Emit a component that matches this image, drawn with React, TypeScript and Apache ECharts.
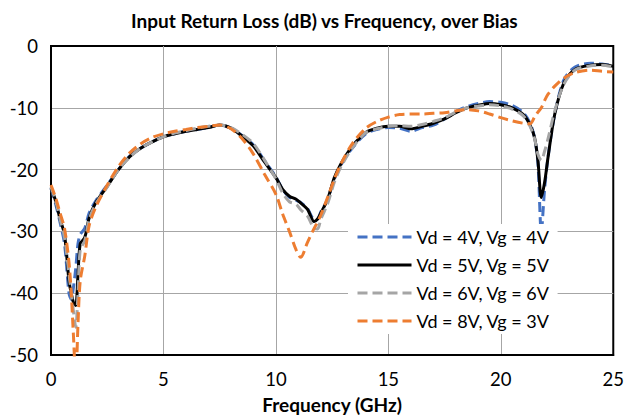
import React, { useEffect, useRef } from "react";
import * as echarts from "echarts";

const freq = [0, 0.2, 0.4, 0.6, 0.8, 0.9, 1.0, 1.1, 1.2, 1.3, 1.5, 1.7, 2.0, 2.5, 3, 3.5, 4, 4.5, 5, 5.5, 6, 6.5, 7, 7.5, 8, 8.5, 9, 9.5, 10, 10.3, 10.6, 10.9, 11.1, 11.4, 11.7, 11.85, 12, 12.3, 12.6, 12.9, 13.4, 14, 14.5, 15, 15.5, 16, 16.5, 17, 17.5, 18, 18.5, 19, 19.5, 20, 20.5, 21, 21.3, 21.5, 21.65, 21.8, 21.95, 22.1, 22.4, 22.8, 23.3, 24, 24.5, 25];

const vd4 = [-23, -25.5, -28.5, -32, -40, -41, -39, -36, -32, -30.5, -29.5, -27, -25, -22.5, -20, -17.8, -16.5, -15.5, -14.7, -14.2, -13.8, -13.5, -13.2, -12.8, -13.3, -14.5, -16, -18.6, -21.2, -23.2, -24.5, -25, -25.3, -26.3, -28, -28, -26.8, -24.8, -21.5, -19.2, -16.5, -14.2, -13.5, -13.2, -13.3, -13.8, -13.2, -12.8, -11.8, -10.6, -9.8, -9.3, -9, -9.1, -9.6, -10.8, -12.5, -14.8, -19, -30, -23, -18, -11, -5.5, -3.4, -2.8, -2.9, -3.2];

const vd5 = [-23, -25, -28, -30.5, -38, -40, -41.5, -42, -37, -32, -31, -27.8, -25.3, -22.7, -20, -17.9, -16.5, -15.5, -14.7, -14.2, -13.8, -13.5, -13.2, -12.8, -13.3, -14.6, -16.2, -18.8, -21.3, -23.2, -24.3, -24.8, -25.4, -26.4, -28.4, -28, -27, -24.8, -21.3, -19, -16.2, -14, -13.3, -13, -13, -13.4, -13, -12.5, -11.8, -10.8, -10, -9.6, -9.3, -9.5, -10, -11.1, -12.8, -14.8, -18.5, -24.5, -22, -18, -11, -6, -3.8, -3.1, -3, -3.3];

const vd6 = [-22.8, -25, -28, -31, -37, -40, -43, -45.5, -40, -33, -31.5, -28, -25.5, -22.8, -20, -18, -16.5, -15.5, -14.7, -14.1, -13.7, -13.3, -13, -12.8, -13.2, -14.3, -15.8, -18.5, -21.5, -23.8, -25.2, -25.6, -26.5, -27.5, -29.5, -29.6, -28, -25.5, -22, -19.5, -16.5, -14, -13.4, -13, -12.9, -13, -12.7, -12.2, -11.6, -10.7, -10, -9.7, -9.5, -9.7, -10.2, -11.3, -13, -15, -17.5, -18.5, -17, -15, -10.5, -6.2, -3.9, -3.2, -3.1, -3.4];

const vd8 = [-22.5, -24.5, -27, -29.5, -35, -40, -47, -54, -45, -38, -34, -29, -26, -22.5, -19.5, -17.3, -15.8, -14.8, -14.2, -13.8, -13.5, -13.2, -13, -12.8, -13.4, -15, -17.5, -20.8, -24, -27.2, -30, -33, -34.2, -31.8, -29.5, -28.5, -27.3, -24.5, -21.5, -19, -15.8, -13.3, -12.2, -11.5, -11.1, -11, -11, -10.9, -10.8, -10.5, -10.3, -10.5, -11, -11.6, -12.1, -12.5, -12.6, -11.5, -10.7, -10, -8.8, -7.8, -6.5, -5.2, -4.3, -3.9, -4.1, -4.2];

const seriesNames = ["Vd = 4V, Vg = 4V", "Vd = 5V, Vg = 5V", "Vd = 6V, Vg = 6V", "Vd = 8V, Vg = 3V"];
const seriesColors = ["#4472C4", "#000000", "#A5A5A5", "#ED7D31"];
const seriesDashed = [true, false, true, true];
const seriesValues = [vd4, vd5, vd6, vd8];

const title = "Input Return Loss (dB) vs Frequency, over Bias";
const xTitle = "Frequency (GHz)";

const FONT = "Lato, 'Noto Sans', sans-serif";

export default function App() {
  const ref = useRef<HTMLDivElement>(null);
  useEffect(() => {
    if (!ref.current) return;
    const chart = echarts.init(ref.current, null, { renderer: "svg" });
    chart.setOption({
      animation: false,
      backgroundColor: "#fff",
      textStyle: { fontFamily: FONT },
      title: {
        text: title,
        left: 126,
        top: 6,
        textStyle: { fontFamily: FONT, fontSize: 19, fontWeight: "bold", color: "#000" },
      },
      grid: {
        left: 51,
        right: 13,
        top: 46,
        bottom: 63,
        show: true,
        borderColor: "#000",
        borderWidth: 2,
        backgroundColor: "transparent",
      },
      legend: {
        orient: "vertical",
        left: 348,
        top: 224,
        backgroundColor: "#fff",
        padding: [4, 8, 4, 8],
        itemWidth: 54,
        itemHeight: 14,
        itemGap: 10,
        itemStyle: { opacity: 0 },
        lineStyle: { width: 3 },
        textStyle: { fontFamily: FONT, fontSize: 18, color: "#000" },
        data: seriesNames,
      },
      xAxis: {
        type: "value",
        min: 0,
        max: 25,
        interval: 5,
        name: xTitle,
        nameLocation: "middle",
        nameGap: 40,
        nameTextStyle: { fontFamily: FONT, fontSize: 19, fontWeight: "bold", color: "#000" },
        axisLine: { show: true, onZero: false, lineStyle: { color: "#000", width: 2 } },
        axisTick: { show: false },
        axisLabel: { fontFamily: FONT, fontSize: 18.5, color: "#000", margin: 14 },
        splitLine: { show: true, showMinLine: false, showMaxLine: false, lineStyle: { color: "#A6A6A6", width: 1 } },
      },
      yAxis: {
        type: "value",
        min: -50,
        max: 0,
        interval: 10,
        axisLine: { show: true, onZero: false, lineStyle: { color: "#000", width: 2 } },
        axisTick: { show: false },
        axisLabel: { fontFamily: FONT, fontSize: 18.5, color: "#000", margin: 13 },
        splitLine: { show: true, showMinLine: false, showMaxLine: false, lineStyle: { color: "#A6A6A6", width: 1 } },
      },
      series: seriesNames.map((name, i) => ({
        name,
        type: "line",
        symbol: "none",
        smooth: 0.3,
        clip: true,
        z: 2 + i,
        data: freq.map((f, k) => [f, seriesValues[i][k]]),
        lineStyle: {
          color: seriesColors[i],
          width: 3,
          type: seriesDashed[i] ? [10, 5] : "solid",
        },
        itemStyle: { color: seriesColors[i] },
      })),
    });
    return () => chart.dispose();
  }, []);
  return <div ref={ref} style={{ width: 627, height: 419, position: "absolute", left: 0, top: 0 }} />;
}
